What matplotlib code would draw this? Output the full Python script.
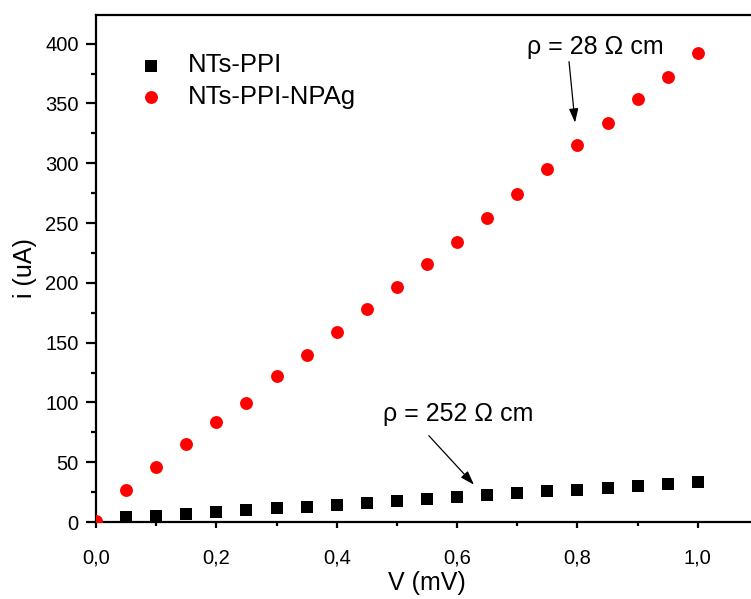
import matplotlib
matplotlib.use("Agg")
import matplotlib.pyplot as plt
from matplotlib.ticker import MultipleLocator, FuncFormatter

plt.rcParams['font.family'] = ['Liberation Sans', 'DejaVu Sans']

voltage = [0.05, 0.10, 0.15, 0.20, 0.25, 0.30, 0.35, 0.40, 0.45, 0.50,
           0.55, 0.60, 0.65, 0.70, 0.75, 0.80, 0.85, 0.90, 0.95, 1.00]
current_ppi = [4.2, 5.3, 6.7, 8.1, 9.7, 11.4, 12.8, 14.3, 16.2, 17.8,
               19.3, 20.9, 22.4, 24.0, 25.6, 27.1, 28.6, 30.2, 31.8, 33.1]

voltage_ag = [0.00, 0.05, 0.10, 0.15, 0.20, 0.25, 0.30, 0.35, 0.40, 0.45, 0.50,
              0.55, 0.60, 0.65, 0.70, 0.75, 0.80, 0.85, 0.90, 0.95, 1.00]
current_ag = [0.5, 27.0, 46.3, 65.3, 83.9, 99.6, 122.0, 140.0, 159.0, 178.0, 196.5,
              216.0, 234.5, 254.0, 274.5, 294.8, 314.9, 333.9, 353.4, 372.4, 392.5]

labels = ["NTs-PPI", "NTs-PPI-NPAg"]

W, H = 751, 599
fig = plt.figure(figsize=(W / 100, H / 100), dpi=100)
left, right, top, bottom = 96, 758, 15, 522
ax = fig.add_axes([left / W, 1 - bottom / H, (right - left) / W, (bottom - top) / H])

ax.scatter(voltage, current_ppi, marker='s', s=70, color='black', linewidths=0,
           label=labels[0], zorder=3)
ax.scatter(voltage_ag, current_ag, marker='o', s=86, color='#ff0000', linewidths=0,
           label=labels[1], zorder=3)

ax.set_xlim(0, 1.1)
ax.set_ylim(0, 424)

for side in ['left', 'bottom', 'top', 'right']:
    ax.spines[side].set_linewidth(1.6)

ax.xaxis.set_major_locator(MultipleLocator(0.2))
ax.xaxis.set_minor_locator(MultipleLocator(0.1))
ax.yaxis.set_major_locator(MultipleLocator(50))
ax.yaxis.set_minor_locator(MultipleLocator(25))
ax.xaxis.set_major_formatter(FuncFormatter(lambda v, p: f"{v:.1f}".replace('.', ',')))
ax.tick_params(which='both', direction='out', width=1.6, labelsize=14.5)
ax.tick_params(axis='y', which='major', length=7.5, pad=5)
ax.tick_params(axis='y', which='minor', length=3.8)
ax.tick_params(axis='x', which='major', length=4.3, pad=15)
ax.tick_params(axis='x', which='minor', length=3.0)
ax.tick_params(top=False, right=False, which='both')

ax.set_xlabel("V (mV)", fontsize=18, labelpad=2)
ax.set_ylabel("i (uA)", fontsize=18, labelpad=6)

leg = ax.legend(loc='upper left', bbox_to_anchor=(0.045, 0.9245), frameon=False,
                fontsize=18.5, handlelength=2.0, handletextpad=0.4,
                labelspacing=0.3, borderpad=0, borderaxespad=0, scatterpoints=1)

arrow = dict(arrowstyle='-|>,head_length=0.6,head_width=0.2', color='black', lw=0.9,
             mutation_scale=14, shrinkA=0, shrinkB=0)

ax.text(0.716, 397.5, "ρ = 28 Ω cm", fontsize=18, ha='left', va='center')
ax.annotate("", xy=(0.796, 334), xytext=(0.786, 385), arrowprops=arrow)

ax.text(0.477, 90.6, "ρ = 252 Ω cm", fontsize=18, ha='left', va='center')
ax.annotate("", xy=(0.628, 31.2), xytext=(0.553, 72.2), arrowprops=arrow)

fig.savefig("out.png", dpi=100)
